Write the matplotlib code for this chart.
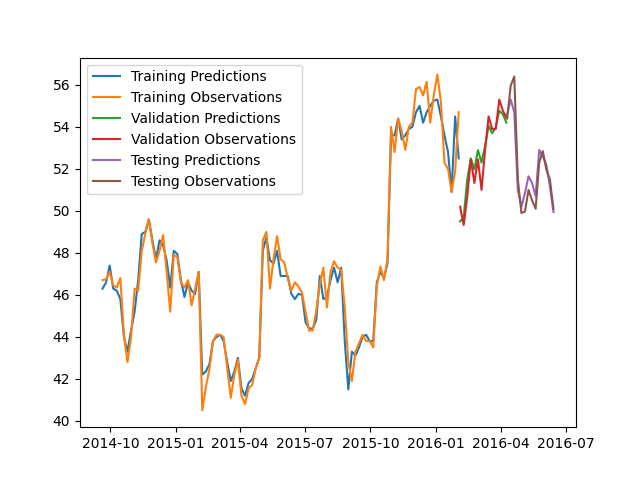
import matplotlib
matplotlib.use('Agg')
import matplotlib.pyplot as plt
import matplotlib.dates as mdates
import pandas as pd

# dates, every 5 days
train_dates = pd.date_range('2014-09-20', periods=101, freq='5D')
val_dates = pd.date_range('2016-02-04', periods=14, freq='5D')
test_dates = pd.date_range('2016-04-10', periods=14, freq='5D')

train_obs = [46.7, 46.75, 47.1, 46.45, 46.35, 46.8, 44.1, 42.8, 44.0, 46.3,
             46.2, 48.1, 48.9, 49.6, 48.45, 47.55, 48.1, 48.85, 47.1, 45.2,
             47.9, 47.8, 46.6, 46.35, 46.7, 45.5, 46.3, 47.1, 40.5, 41.6,
             42.45, 43.8, 44.1, 44.1, 44.0, 42.5, 41.1, 42.2, 42.9, 41.2,
             40.8, 41.55, 41.7, 42.5, 43.0, 48.6, 49.0, 46.3, 47.7, 48.8,
             47.7, 47.55, 46.8, 46.2, 46.6, 46.4, 46.1, 45.2, 44.3, 44.3,
             45.25, 46.5, 47.3, 45.4, 47.1, 47.6, 47.3, 47.2, 45.4, 42.8,
             41.9, 43.3, 43.7, 44.1, 43.8, 43.8, 43.5, 46.4, 47.35, 46.7,
             47.7, 54.0, 52.8, 54.4, 53.8, 52.9, 54.0, 54.2, 55.8, 55.9,
             55.5, 56.15, 54.2, 55.5, 56.5, 55.2, 52.3, 52.0, 50.9, 51.9,
             54.7]
train_pred = [46.3, 46.6, 47.4, 46.3, 46.2, 45.8, 44.0, 43.3, 44.3, 45.2,
              46.7, 48.9, 49.0, 49.6, 48.6, 47.7, 48.6, 48.35, 47.65, 46.35,
              48.1, 47.95, 46.7, 45.9, 46.6, 46.2, 46.05, 47.1, 42.2, 42.35,
              42.7, 43.8, 44.0, 44.1, 43.8, 42.8, 41.9, 42.35, 43.0, 41.55,
              41.2, 41.8, 42.0, 42.5, 43.0, 48.1, 48.75, 47.65, 47.5, 48.1,
              46.9, 46.9, 46.9, 46.05, 45.8, 46.05, 46.0, 44.7, 44.4, 44.4,
              44.8, 46.9, 45.8, 45.9, 46.7, 47.3, 46.6, 47.3, 43.8, 41.5,
              43.3, 43.1, 43.5, 44.0, 44.1, 43.8, 43.8, 46.6, 47.1, 46.8,
              47.5, 53.6, 53.6, 54.4, 53.4, 53.6, 53.9, 54.0, 54.7, 55.0,
              54.2, 54.7, 55.0, 55.25, 55.3, 54.5, 53.6, 52.8, 50.9, 54.5,
              52.5]

val_obs = [50.2, 49.33, 50.7, 52.45, 51.33, 52.45, 51.0, 52.9, 54.5, 53.9,
           53.9, 55.3, 54.77, 54.45]
val_pred = [49.5, 49.7, 51.5, 52.5, 51.97, 52.9, 52.3, 53.1, 54.05, 53.7,
            53.97, 54.77, 54.6, 54.2]

test_obs = [54.4, 55.97, 56.4, 51.5, 49.9, 49.97, 51.0, 50.5, 50.1, 52.3,
            52.85, 51.97, 51.5, 50.1]
test_pred = [54.6, 55.3, 54.7, 51.0, 50.2, 50.85, 51.65, 51.33, 50.7, 52.9,
             52.6, 52.2, 51.17, 49.95]

fig, ax = plt.subplots(figsize=(6.4, 4.8), dpi=100)
ax.plot(train_dates, train_pred, label='Training Predictions')
ax.plot(train_dates, train_obs, label='Training Observations')
ax.plot(val_dates, val_pred, label='Validation Predictions')
ax.plot(val_dates, val_obs, label='Validation Observations')
ax.plot(test_dates, test_pred, label='Testing Predictions')
ax.plot(test_dates, test_obs, label='Testing Observations')
ax.legend(loc='upper left')

# quarterly ticks like 2014-10, 2015-01, ...
ax.xaxis.set_major_locator(mdates.MonthLocator(bymonth=[1, 4, 7, 10]))
ax.xaxis.set_major_formatter(mdates.DateFormatter('%Y-%m'))

plt.savefig('out.png')
